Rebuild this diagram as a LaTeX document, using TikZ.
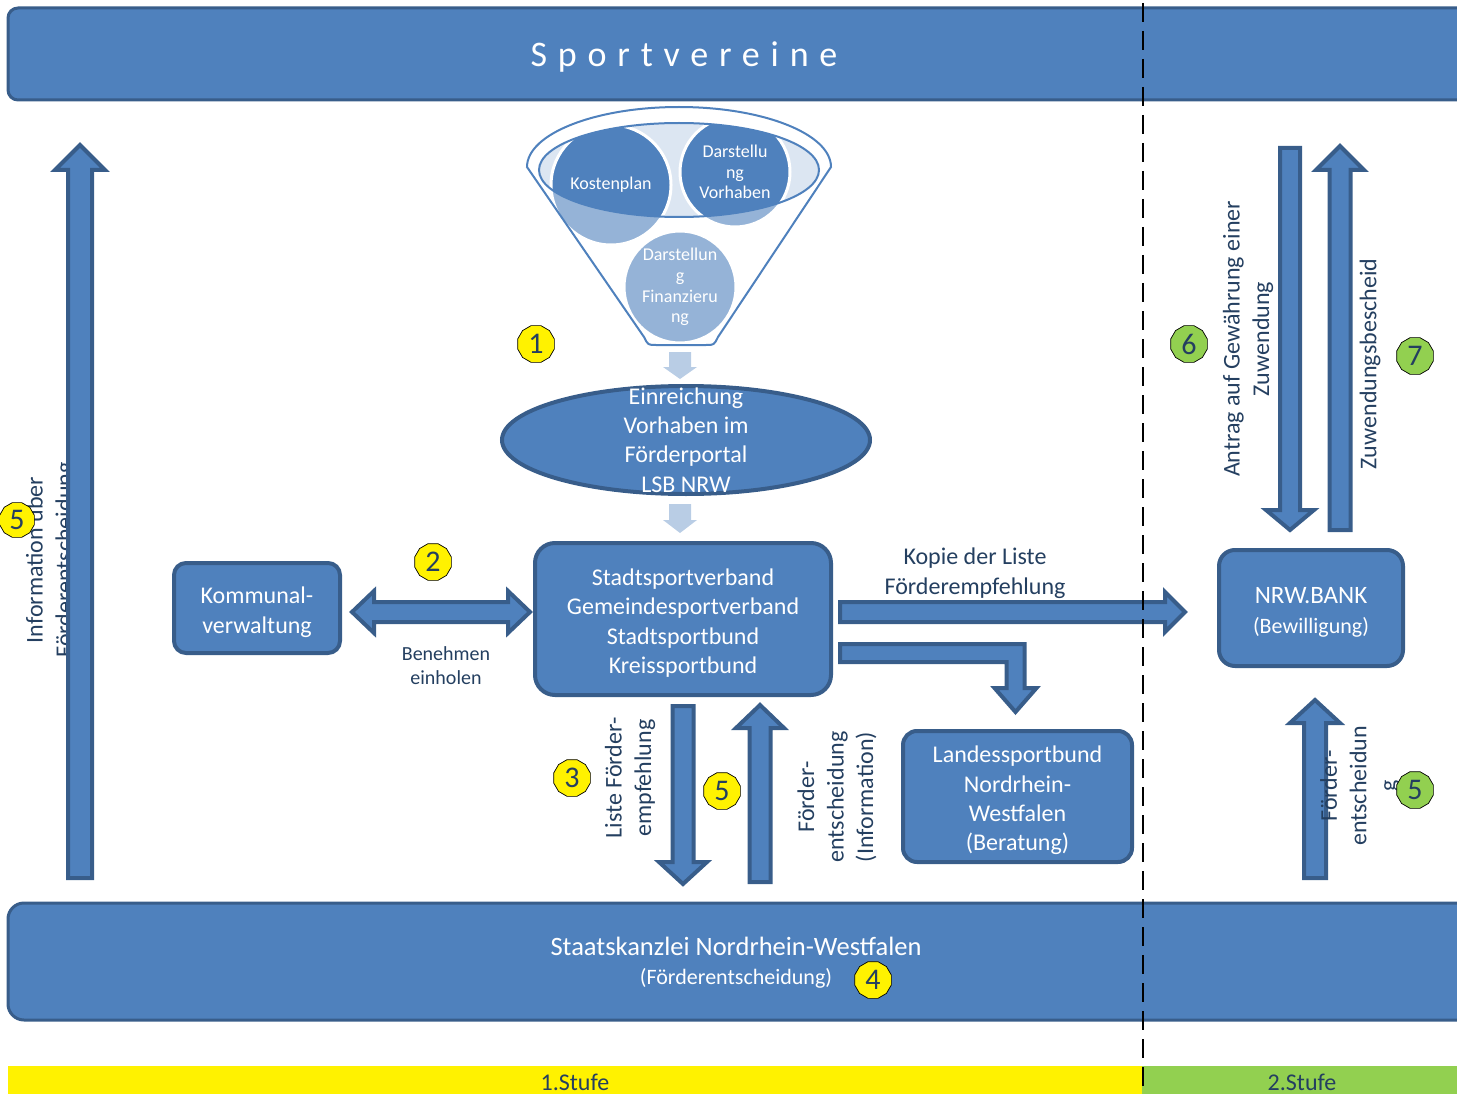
\documentclass[tikz,border=0pt]{standalone}
\usepackage{fontspec}
\setmainfont{Carlito}
\usetikzlibrary{calc,shapes.geometric}

\definecolor{blu}{HTML}{4F81BD}
\definecolor{bluD}{HTML}{385D8A}
\definecolor{bluL}{HTML}{B9CDE5}
\definecolor{bluP}{HTML}{DCE6F2}
\definecolor{txt}{HTML}{243F60}
\definecolor{grn}{HTML}{92D050}

\newcommand{\fs}[2]{\fontsize{#1}{#2}\selectfont}
\newcommand{\ts}{\rule{0pt}{25pt}}

% Blockpfeil: Start, Spitze, halbe Breite, halbe Kopfbreite, Kopflaenge
\newcommand{\blockarrow}[6][blockarr]{%
  \path (#2) coordinate (ta) (#3) coordinate (tip);
  \path ($(tip)!#6!(ta)$) coordinate (hb);
  \draw[#1] ($(ta)!#4!90:(tip)$) -- ($(hb)!#4!90:(tip)$) -- ($(hb)!#5!90:(tip)$)
    -- (tip) -- ($(hb)!#5!-90:(tip)$) -- ($(hb)!#4!-90:(tip)$)
    -- ($(ta)!#4!-90:(tip)$) -- cycle;}
% Doppelpfeil
\newcommand{\dblarrow}[6][blockarr]{%
  \path (#2) coordinate (pa) (#3) coordinate (pb);
  \path ($(pa)!#6!(pb)$) coordinate (ha) ($(pb)!#6!(pa)$) coordinate (hb);
  \draw[#1] (pa) -- ($(ha)!#5!90:(pb)$) -- ($(ha)!#4!90:(pb)$)
    -- ($(hb)!#4!-90:(pa)$) -- ($(hb)!#5!-90:(pa)$) -- (pb)
    -- ($(hb)!#5!90:(pa)$) -- ($(hb)!#4!90:(pa)$)
    -- ($(ha)!#4!-90:(pb)$) -- ($(ha)!#5!-90:(pb)$) -- cycle;}
% Trichter
\newcommand{\trichter}{(527,167) -- (644,337) .. controls (648,345) .. (656,345)
  -- (706,345) .. controls (714,345) .. (718,337) -- (831,167)
  arc[start angle=0, end angle=-180, x radius=152, y radius=60] -- cycle}

\tikzset{
  bar/.style={draw=bluD, fill=blu, line width=3pt, rounded corners=10pt, outer sep=0pt},
  box/.style={draw=bluD, fill=blu, line width=4pt, rounded corners=14pt, outer sep=0pt,
    text=white, align=center, font=\fs{24}{29.3}},
  circ/.style={circle, fill=blu, draw=white, line width=3pt, outer sep=0pt, inner sep=0pt,
    text=white, align=center, font=\fs{18}{20.7}},
  fline/.style={draw=blu, line width=2pt},
  lbl/.style={text=txt, align=center, font=\fs{24}{29.5}},
  stufe/.style={minimum height=32pt, inner sep=0pt, text=txt, font=\fs{24}{28}},
  badge/.style={regular polygon, regular polygon sides=12, draw=black, line width=0.7pt,
    fill=yellow, minimum size=38pt, inner sep=0pt, text=txt, font=\fs{30}{30}},
  gbadge/.style={badge, fill=grn},
  blockarr/.style={draw=bluD, fill=blu, line width=4pt, line join=miter},
  lightarr/.style={fill=bluL, draw=none}
}

\begin{document}
\begin{tikzpicture}[x=1pt,y=-1pt]
\useasboundingbox (0,0) rectangle (1457,1094);

% Balken
\node[bar, minimum width=1470pt, minimum height=92pt] (sv) at (743,54) {};
\node[text=white, font=\fs{36}{40}\addfontfeature{LetterSpace=30}] (svt) at (684,57) {Sportvereine};
\node[bar, rounded corners=16pt, minimum width=1470pt, minimum height=117pt] (sk) at (743,961.5) {};
\node[text=white, align=center, font=\fs{26.5}{29}] (skt) at (736,963)
  {Staatskanzlei Nordrhein-Westfalen\\{\fs{22}{29}(Förderentscheidung)}};
\node[stufe, fill=yellow, minimum width=1134pt] (st1) at (575,1082) {1.Stufe};
\node[stufe, fill=grn, minimum width=320pt] (st2) at (1302,1082) {2.Stufe};

% Trichter
\fill[bluP] (679,170) ellipse [x radius=140, y radius=47];
\node[circ, minimum size=120pt] (kp) at (611,185) {Kostenplan};
\node[circ, minimum size=110pt] (dv) at (735,172) {Darstellu\\ng\\Vorhaben};
\node[circ, minimum size=112pt] (df) at (680,287) {Darstellun\\g\\Finanzieru\\ng};
\begin{scope}
  \clip (500,90) rectangle (860,170);
  \fill[white, even odd rule] (679,167) ellipse [x radius=152, y radius=60]
    (679,170) ellipse [x radius=140, y radius=47];
\end{scope}
\fill[white, opacity=0.4, even odd rule] \trichter (679,170) ellipse [x radius=140, y radius=47];
\draw[fline] \trichter;
\draw[fline] (679,170) ellipse [x radius=140, y radius=47];

\node[ellipse, draw=bluD, fill=blu, line width=4pt, outer sep=0pt,
  minimum width=368pt, minimum height=108pt] (einr) at (686,440) {};
\node[text=white, align=center, font=\fs{24}{29.3}] (einrt) at (einr.center)
  {Einreichung\\Vorhaben im\\Förderportal\\LSB NRW};

% Kaesten
\node[box, rounded corners=12pt, minimum width=166pt, minimum height=90pt] (kom) at (257,608) {\ts Kommunal-\\verwaltung};
\node[box, rounded corners=20pt, minimum width=296pt, minimum height=152pt] (ssv) at (683,619)
  {\ts Stadtsportverband\\Gemeindesportverband\\Stadtsportbund\\Kreissportbund};
\node[box, rounded corners=16pt, minimum width=184pt, minimum height=116pt] (bank) at (1311,608)
  {{\fs{25}{29}\ts NRW.BANK}\\{\fs{22}{29}(Bewilligung)}};
\node[box, minimum width=229pt, minimum height=131pt] (lsb) at (1017.5,796.5)
  {\ts Landessportbund\\Nordrhein-\\Westfalen\\(Beratung)};

% Beschriftungen
\node[lbl, rotate=90] (tinfo) at (51,560) {Information über\\Förderentscheidung};
\node[lbl, font=\fs{20}{24}] (tben) at (446,666) {Benehmen\\einholen};
\node[lbl] (tkop) at (975,573) {Kopie der Liste\\Förderempfehlung};
\node[lbl, rotate=90] (tlis) at (630,778) {Liste Förder-\\empfehlung};
\node[lbl, rotate=90] (tfe) at (837,797) {Förder-\\entscheidung\\(Information)};
\node[lbl, rotate=90] (tant) at (1248,339) {Antrag auf Gewährung einer\\Zuwendung};
\node[lbl, rotate=90] (tzuw) at (1370,364) {Zuwendungsbescheid};

% Pfeile
\blockarrow[lightarr]{$(df.south)+(0,9)$}{$(df.south |- einr.north)+(0,-7)$}{11pt}{17pt}{12pt}
\blockarrow[lightarr]{$(einr.south -| df.south)+(0,10)$}{$(ssv.north -| df.south)+(0,-10)$}{11pt}{17pt}{13pt}
\blockarrow{$(sk.north west)+(72,-25)$}{$(sv.south west)+(72,45)$}{12pt}{25pt}{25pt}
\dblarrow{$(kom.east)+(12,4)$}{$(ssv.west |- kom.east)+(-5,4)$}{10pt}{21pt}{22pt}
\blockarrow{$(ssv.east)+(9,-7)$}{$(bank.west)+(-34,4)$}{10pt}{20pt}{20pt}
\draw[blockarr] let \p1=($(ssv.east)+(9,34)$), \p2=($(lsb.north)+(-2,-19)$) in
  (\x1,\y1+9pt) -- (\x2+9pt,\y1+9pt) -- (\x2+9pt,\y2+24pt) -- (\x2+21pt,\y2+24pt) -- (\x2,\y2)
  -- (\x2-21pt,\y2+24pt) -- (\x2-9pt,\y2+24pt) -- (\x2-9pt,\y1-9pt) -- (\x1,\y1-9pt) -- cycle;
\blockarrow{$(ssv.south)+(0,11)$}{$(ssv.south |- sk.north)+(0,-19)$}{10.5pt}{24pt}{22pt}
\blockarrow{$(ssv.south |- sk.north)+(77,-21)$}{$(ssv.south)+(77,10)$}{10.5pt}{24pt}{23pt}
\blockarrow{$(bank.north |- sv.south)+(-21,48)$}{$(bank.north)+(-21,-20)$}{10pt}{24pt}{20pt}
\blockarrow{$(bank.north)+(29,-20)$}{$(bank.north |- sv.south)+(29,46)$}{10.5pt}{24pt}{24pt}
\blockarrow{$(bank.south |- sk.north)+(4,-25)$}{$(bank.south)+(4,34)$}{11pt}{25pt}{23pt}

\node[lbl, rotate=90] (tfe2) at (1360,786) {Förder-\\entscheidun\\g};

% Nummern
\node[badge] (b1) at (536,344) {1};
\node[badge] (b2) at (433,562) {2};
\node[badge] (b3) at (572,778) {3};
\node[badge] (b4) at (873,980) {4};
\node[badge] (b5a) at (722,791) {5};
\node[badge, minimum size=36pt] (b5b) at (17,520) {5};
\node[gbadge] (b6) at (1189,344) {6};
\node[gbadge] (b7) at (1415,356) {7};
\node[gbadge] (b5c) at (1415,790) {5};

% Trennlinie
\draw[black, line width=2pt, dash pattern=on 19pt off 9pt] (1143,3) -- (1143,1094);
\end{tikzpicture}
\end{document}
